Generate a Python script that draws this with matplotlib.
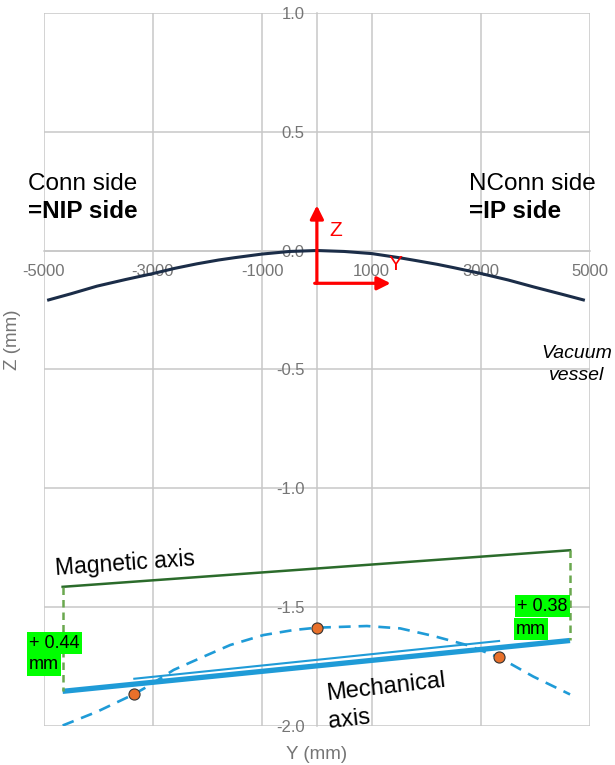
import numpy as np
import matplotlib
matplotlib.use("Agg")
import matplotlib.pyplot as plt

plt.rcParams['font.family'] = ['Liberation Sans', 'DejaVu Sans']
plt.rcParams['axes.unicode_minus'] = False

# vacuum vessel sag (Y mm, Z mm)
vessel_y = [-4910, -4500, -4025, -3500, -3000, -2600, -2195, -1800, -1500, -1006, -500, 0,
            500, 1006, 1500, 1830, 2200, 2500, 2988, 3500, 3963, 4500, 4878]
vessel_z = [-0.208, -0.182, -0.150, -0.122, -0.097, -0.075, -0.056, -0.040, -0.030, -0.015, -0.004, 0.0,
            -0.004, -0.013, -0.030, -0.043, -0.058, -0.072, -0.096, -0.124, -0.153, -0.185, -0.208]

# dashed curve through the measured points
curve_y = [-4654, -4025, -3355, -3050, -2623, -2075, -1586, -977, -428, 0,
           915, 1524, 2134, 2744, 3335, 3963, 4634]
curve_z = [-2.000, -1.942, -1.869, -1.829, -1.766, -1.710, -1.661, -1.619, -1.598, -1.588,
           -1.581, -1.591, -1.623, -1.661, -1.713, -1.794, -1.869]

meas_y = [-3355, 0, 3335]
meas_z = [-1.869, -1.588, -1.713]

# magnetic axis and offsets to mechanical axis
axis_y = [-4654, 4634]
mag_z = [-1.416, -1.262]
offsets = [0.44, 0.38]
mech_z = [m - o for m, o in zip(mag_z, offsets)]

fit_y = [-3342, 3335]
fit_z = [-1.803, -1.644]

xticks = [-5000, -3000, -1000, 1000, 3000, 5000]
yticks = [-2.0, -1.5, -1.0, -0.5, 0.0, 0.5, 1.0]

grey = '#c8c8c8'
label_grey = '#757575'
blue = '#1f9bd7'

fig = plt.figure(figsize=(6.15, 7.65), dpi=100)
ax = fig.add_axes([0.0711, 0.0516, 0.8883, 0.9314])

ax.plot(vessel_y, vessel_z, color='#1b2d48', lw=2.2, zorder=3)
ax.plot(curve_y, curve_z, color=blue, lw=1.9, dashes=(4.5, 3), zorder=3)
ax.plot(fit_y, fit_z, color=blue, lw=1.5, zorder=3)
ax.plot(axis_y, mech_z, color=blue, lw=3.8, solid_capstyle='butt', zorder=3)
ax.plot(axis_y, mag_z, color='#2b6b2b', lw=1.8, zorder=3)
for y, m1, m2 in zip(axis_y, mag_z, mech_z):
    ax.plot([y, y], [m1, m2], color='#6aa84f', lw=1.8, dashes=(3, 2), zorder=3)
ax.plot(meas_y, meas_z, 'o', color='#e8702a', mec='#333333', mew=0.8, ms=8, zorder=4)

ax.set_xlim(-5000, 5000)
ax.set_ylim(-2.0, 1.0)
ax.set_xticks(xticks)
ax.set_yticks(yticks)
ax.set_yticklabels([f'{v:.1f}' for v in yticks])
ax.grid(True, color=grey, lw=1.1)
for gl in ax.get_xgridlines() + ax.get_ygridlines():
    gl.set_clip_on(False)
ax.tick_params(length=0, labelsize=12, labelcolor=label_grey)
ax.tick_params(axis='y', pad=9)
ax.tick_params(axis='x', pad=10)
ax.spines['left'].set_position(('data', 0))
ax.spines['bottom'].set_position(('data', 0))
ax.spines['left'].set_color(grey)
ax.spines['bottom'].set_color(grey)
ax.spines['left'].set_linewidth(1.1)
ax.spines['bottom'].set_linewidth(1.1)
ax.spines['top'].set_visible(False)
ax.spines['right'].set_visible(False)

ax.set_xlabel('Y (mm)', color=label_grey, fontsize=13.5, va='center')
ax.set_ylabel('Z (mm)', color=label_grey, fontsize=13.5, va='center')
ax.xaxis.set_label_coords(0.5, -0.04)
ax.yaxis.set_label_coords(-0.058, 0.541)

# coordinate frame arrows
ax.annotate('', xy=(0, 0.19), xytext=(0, -0.138),
            arrowprops=dict(arrowstyle='-|>', color='red', lw=2.3, mutation_scale=20,
                            shrinkA=0, shrinkB=0), zorder=5)
ax.annotate('', xy=(1350, -0.138), xytext=(-40, -0.138),
            arrowprops=dict(arrowstyle='-|>', color='red', lw=2.3, mutation_scale=20,
                            shrinkA=0, shrinkB=0), zorder=5)
ax.text(230, 0.086, 'Z', color='red', fontsize=15, ha='left', va='center')
ax.text(1320, -0.061, 'Y', color='red', fontsize=15, ha='left', va='center')

ax.text(-5282, 0.255, 'Conn side', fontsize=17.5, va='baseline')
ax.text(-5282, 0.137, '=NIP side', fontsize=17.5, fontweight='bold', va='baseline')
ax.text(2786, 0.255, 'NConn side', fontsize=17.5, va='baseline')
ax.text(2786, 0.137, '=IP side', fontsize=17.5, fontweight='bold', va='baseline')
ax.text(4762, -0.453, 'Vacuum', fontsize=14, style='italic', ha='center', va='baseline')
ax.text(4762, -0.545, 'vessel', fontsize=14, style='italic', ha='center', va='baseline')

ax.text(-4784, -1.366, 'Magnetic axis', fontsize=16.5, rotation=4,
        rotation_mode='anchor', ha='left', va='baseline')
ax.text(192, -1.893, 'Mechanical', fontsize=17, rotation=6.5,
        rotation_mode='anchor', ha='left', va='baseline')
ax.text(225, -2.009, 'axis', fontsize=17, rotation=6.5,
        rotation_mode='anchor', ha='left', va='baseline', clip_on=False)

box = dict(boxstyle='square,pad=0.12', fc='#00ff00', ec='none')
ax.text(-5265, -1.653, f'+ {offsets[0]:.2f}', fontsize=13, ha='left', va='center', bbox=box)
ax.text(-5265, -1.745, 'mm', fontsize=13, ha='left', va='center', bbox=box)
ax.text(3665, -1.497, f'+ {offsets[1]:.2f}', fontsize=13, ha='left', va='center', bbox=box)
ax.text(3650, -1.594, 'mm', fontsize=13, ha='left', va='center', bbox=box)

fig.savefig('out.png', dpi=100)
